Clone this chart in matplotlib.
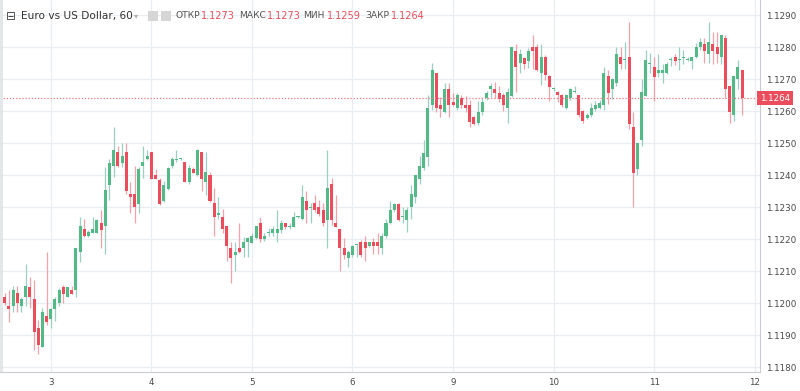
import matplotlib
matplotlib.use("Agg")
import matplotlib.pyplot as plt
from matplotlib.patches import Rectangle

# hourly EUR/USD candles (OHLC)
opens = [
    1.12020, 1.11991, 1.11991, 1.12030, 1.11991, 1.12020, 1.12049, 1.12012, 1.11923, 1.11862,
    1.11960, 1.11950, 1.11980, 1.12001, 1.12049, 1.12020, 1.12041, 1.12041, 1.12158, 1.12230,
    1.12209, 1.12220, 1.12220, 1.12249, 1.12241, 1.12369, 1.12428, 1.12471, 1.12438, 1.12471,
    1.12340, 1.12340, 1.12309, 1.12428, 1.12449, 1.12471, 1.12400, 1.12384, 1.12319, 1.12356,
    1.12428, 1.12448, 1.12449, 1.12441, 1.12379, 1.12420, 1.12400, 1.12471, 1.12379, 1.12400,
    1.12312, 1.12275, 1.12268, 1.12241, 1.12171, 1.12150, 1.12171, 1.12171, 1.12192, 1.12188,
    1.12202, 1.12251, 1.12200, 1.12220, 1.12220, 1.12220, 1.12228, 1.12249, 1.12238, 1.12238,
    1.12268, 1.12262, 1.12320, 1.12297, 1.12312, 1.12301, 1.12291, 1.12259, 1.12371, 1.12249,
    1.12230, 1.12171, 1.12140, 1.12150, 1.12180, 1.12192, 1.12192, 1.12179, 1.12192, 1.12192,
    1.12171, 1.12209, 1.12249, 1.12291, 1.12309, 1.12268, 1.12259, 1.12301, 1.12332, 1.12387,
    1.12421, 1.12457, 1.12619, 1.12718, 1.12619, 1.12598, 1.12668, 1.12629, 1.12608, 1.12640,
    1.12619, 1.12619, 1.12580, 1.12562, 1.12598, 1.12640, 1.12668, 1.12668, 1.12657, 1.12650,
    1.12608, 1.12647, 1.12788, 1.12749, 1.12765, 1.12757, 1.12799, 1.12799, 1.12720, 1.12768,
    1.12709, 1.12668, 1.12660, 1.12650, 1.12608, 1.12640, 1.12660, 1.12650, 1.12601, 1.12577,
    1.12587, 1.12605, 1.12608, 1.12619, 1.12709, 1.12668, 1.12688, 1.12768, 1.12758, 1.12768,
    1.12549, 1.12418, 1.12509, 1.12647, 1.12748, 1.12738, 1.12718, 1.12718, 1.12718, 1.12758,
    1.12768, 1.12758, 1.12767, 1.12758, 1.12757, 1.12768, 1.12799, 1.12809, 1.12778, 1.12809,
    1.12799, 1.12768, 1.12827, 1.12678, 1.12587, 1.12699, 1.12728,
]
highs = [
    1.12030, 1.12040, 1.12052, 1.12052, 1.12020, 1.12122, 1.12082, 1.12072, 1.11947, 1.11983,
    1.12160, 1.11983, 1.12020, 1.12046, 1.12056, 1.12049, 1.12052, 1.12171, 1.12270, 1.12262,
    1.12228, 1.12270, 1.12262, 1.12291, 1.12426, 1.12449, 1.12551, 1.12491, 1.12499, 1.12499,
    1.12379, 1.12428, 1.12426, 1.12491, 1.12478, 1.12471, 1.12418, 1.12390, 1.12381, 1.12426,
    1.12455, 1.12478, 1.12452, 1.12441, 1.12431, 1.12426, 1.12480, 1.12471, 1.12471, 1.12410,
    1.12358, 1.12330, 1.12293, 1.12241, 1.12192, 1.12192, 1.12251, 1.12207, 1.12207, 1.12220,
    1.12241, 1.12270, 1.12218, 1.12233, 1.12241, 1.12291, 1.12259, 1.12251, 1.12249, 1.12285,
    1.12272, 1.12369, 1.12351, 1.12313, 1.12337, 1.12322, 1.12312, 1.12478, 1.12390, 1.12337,
    1.12230, 1.12202, 1.12166, 1.12181, 1.12183, 1.12197, 1.12209, 1.12192, 1.12202, 1.12220,
    1.12218, 1.12262, 1.12320, 1.12313, 1.12312, 1.12301, 1.12301, 1.12369, 1.12400, 1.12459,
    1.12509, 1.12650, 1.12749, 1.12718, 1.12645, 1.12687, 1.12688, 1.12655, 1.12655, 1.12650,
    1.12647, 1.12634, 1.12584, 1.12632, 1.12643, 1.12663, 1.12688, 1.12692, 1.12678, 1.12657,
    1.12671, 1.12799, 1.12809, 1.12793, 1.12770, 1.12796, 1.12838, 1.12809, 1.12809, 1.12775,
    1.12712, 1.12676, 1.12663, 1.12653, 1.12653, 1.12671, 1.12678, 1.12650, 1.12603, 1.12593,
    1.12626, 1.12632, 1.12634, 1.12738, 1.12728, 1.12702, 1.12799, 1.12799, 1.12817, 1.12879,
    1.12598, 1.12499, 1.12699, 1.12791, 1.12780, 1.12768, 1.12778, 1.12747, 1.12754, 1.12770,
    1.12778, 1.12799, 1.12791, 1.12770, 1.12770, 1.12812, 1.12827, 1.12827, 1.12879, 1.12848,
    1.12848, 1.12838, 1.12838, 1.12678, 1.12709, 1.12759, 1.12728,
]
lows = [
    1.11994, 1.11942, 1.11973, 1.11973, 1.11973, 1.11991, 1.11983, 1.11853, 1.11841, 1.11862,
    1.11931, 1.11923, 1.11945, 1.11991, 1.12001, 1.12018, 1.12028, 1.12020, 1.12129, 1.12205,
    1.12205, 1.12218, 1.12220, 1.12171, 1.12153, 1.12322, 1.12393, 1.12426, 1.12426, 1.12341,
    1.12282, 1.12251, 1.12280, 1.12390, 1.12447, 1.12388, 1.12388, 1.12306, 1.12317, 1.12353,
    1.12421, 1.12442, 1.12447, 1.12377, 1.12372, 1.12405, 1.12397, 1.12350, 1.12337, 1.12317,
    1.12209, 1.12262, 1.12220, 1.12132, 1.12063, 1.12101, 1.12155, 1.12143, 1.12143, 1.12187,
    1.12199, 1.12192, 1.12195, 1.12209, 1.12209, 1.12192, 1.12220, 1.12230, 1.12230, 1.12237,
    1.12265, 1.12259, 1.12249, 1.12251, 1.12285, 1.12272, 1.12241, 1.12171, 1.12244, 1.12237,
    1.12101, 1.12137, 1.12113, 1.12145, 1.12145, 1.12143, 1.12132, 1.12176, 1.12153, 1.12153,
    1.12153, 1.12202, 1.12247, 1.12285, 1.12257, 1.12251, 1.12223, 1.12262, 1.12312, 1.12372,
    1.12416, 1.12428, 1.12603, 1.12598, 1.12580, 1.12595, 1.12582, 1.12616, 1.12603, 1.12608,
    1.12598, 1.12551, 1.12556, 1.12556, 1.12587, 1.12634, 1.12645, 1.12640, 1.12629, 1.12601,
    1.12562, 1.12643, 1.12660, 1.12720, 1.12730, 1.12733, 1.12730, 1.12726, 1.12681, 1.12697,
    1.12632, 1.12663, 1.12629, 1.12613, 1.12605, 1.12634, 1.12657, 1.12582, 1.12562, 1.12574,
    1.12582, 1.12601, 1.12605, 1.12603, 1.12622, 1.12637, 1.12678, 1.12730, 1.12730, 1.12543,
    1.12301, 1.12400, 1.12491, 1.12647, 1.12718, 1.12632, 1.12707, 1.12688, 1.12716, 1.12741,
    1.12744, 1.12728, 1.12747, 1.12757, 1.12730, 1.12765, 1.12791, 1.12749, 1.12749, 1.12747,
    1.12749, 1.12747, 1.12640, 1.12562, 1.12570, 1.12668, 1.12587,
]
closes = [
    1.11999, 1.11980, 1.12041, 1.11999, 1.12012, 1.12052, 1.12020, 1.11910, 1.11869, 1.11971,
    1.11942, 1.11980, 1.12012, 1.12041, 1.12028, 1.12049, 1.12028, 1.12171, 1.12241, 1.12209,
    1.12222, 1.12230, 1.12259, 1.12228, 1.12353, 1.12438, 1.12478, 1.12428, 1.12459, 1.12350,
    1.12330, 1.12299, 1.12420, 1.12441, 1.12459, 1.12388, 1.12388, 1.12309, 1.12369, 1.12421,
    1.12449, 1.12449, 1.12450, 1.12379, 1.12421, 1.12407, 1.12478, 1.12387, 1.12410, 1.12319,
    1.12268, 1.12280, 1.12230, 1.12178, 1.12140, 1.12160, 1.12158, 1.12192, 1.12202, 1.12209,
    1.12241, 1.12199, 1.12209, 1.12223, 1.12230, 1.12230, 1.12249, 1.12238, 1.12241, 1.12268,
    1.12269, 1.12330, 1.12291, 1.12299, 1.12291, 1.12278, 1.12249, 1.12358, 1.12259, 1.12238,
    1.12171, 1.12150, 1.12158, 1.12178, 1.12181, 1.12150, 1.12171, 1.12192, 1.12179, 1.12179,
    1.12209, 1.12251, 1.12291, 1.12309, 1.12259, 1.12270, 1.12291, 1.12340, 1.12400, 1.12428,
    1.12470, 1.12608, 1.12728, 1.12608, 1.12605, 1.12668, 1.12619, 1.12619, 1.12650, 1.12619,
    1.12608, 1.12567, 1.12559, 1.12598, 1.12629, 1.12657, 1.12678, 1.12657, 1.12637, 1.12619,
    1.12660, 1.12799, 1.12738, 1.12778, 1.12747, 1.12788, 1.12788, 1.12728, 1.12768, 1.12712,
    1.12676, 1.12669, 1.12650, 1.12619, 1.12650, 1.12668, 1.12662, 1.12587, 1.12570, 1.12587,
    1.12608, 1.12619, 1.12625, 1.12720, 1.12657, 1.12699, 1.12778, 1.12747, 1.12759, 1.12559,
    1.12407, 1.12499, 1.12660, 1.12759, 1.12749, 1.12707, 1.12728, 1.12728, 1.12747, 1.12759,
    1.12757, 1.12759, 1.12768, 1.12759, 1.12768, 1.12799, 1.12817, 1.12788, 1.12817, 1.12788,
    1.12778, 1.12838, 1.12668, 1.12598, 1.12709, 1.12738, 1.12640,
]

day_labels = ["3", "4", "5", "6", "9", "10", "11", "12"]
day_pos = [11, 35, 59, 83, 107, 131, 155, 179]  # bar index of midnight
price_ticks = [1.1180, 1.1190, 1.1200, 1.1210, 1.1220, 1.1230, 1.1240,
               1.1250, 1.1260, 1.1270, 1.1280, 1.1290]

header_vals = {"ОТКР": "1.1273", "МАКС": "1.1273", "МИН": "1.1259", "ЗАКР": "1.1264"}

UP, DOWN = "#53b987", "#eb4d5c"
UP_WICK, DOWN_WICK = "#9ccfc0", "#f3a2ab"
GRID = "#e9eef2"

fig = plt.figure(figsize=(8, 3.91), dpi=100)
ax = fig.add_axes([0, 19 / 391, 760 / 800, 372 / 391])

for i, (o, h, l, c) in enumerate(zip(opens, highs, lows, closes)):
    up = c >= o
    ax.vlines(i, l, h, color=UP_WICK if up else DOWN_WICK, lw=0.9, zorder=2)
    bot = min(o, c)
    hgt = max(abs(c - o), 0.00003)
    ax.add_patch(Rectangle((i - 0.36, bot), 0.72, hgt, facecolor=UP if up else DOWN,
                           edgecolor="none", zorder=3))

last = closes[-1]
ax.axhline(last, color="#f07c87", lw=0.9, ls=(0, (1, 1.5)), zorder=4)

ax.set_xlim(-1.12, 180.26)
ax.set_ylim(1.117844, 1.129469)

ax.set_xticks(day_pos)
ax.set_xticklabels(day_labels)
ax.set_yticks(price_ticks)
ax.set_yticklabels([f"{p:.4f}" for p in price_ticks])
ax.yaxis.tick_right()
ax.tick_params(axis="both", length=0, labelsize=6.3, colors="#4a4a4a")
ax.tick_params(axis="y", pad=4)
ax.tick_params(axis="x", pad=4)
ax.grid(True, color=GRID, lw=0.9, zorder=0)
ax.set_axisbelow(True)
for s in ["top", "left"]:
    ax.spines[s].set_visible(False)
for s in ["right", "bottom"]:
    ax.spines[s].set_color("#c9cdd1")
    ax.spines[s].set_linewidth(0.8)

# price tag on the right axis
ax.text(1.0, last, f"{last:.4f}", transform=ax.get_yaxis_transform(), ha="left", va="center",
        fontsize=6.3, color="white",
        bbox=dict(boxstyle="square,pad=0.3", fc=DOWN, ec="none"), clip_on=False)

# left toolbar edge
fig.patches.append(Rectangle((0, 19 / 391), 3 / 800, 372 / 391, transform=fig.transFigure,
                             facecolor="#e4e7ea", edgecolor="none"))

# header
def fx(px):
    return px / 800

hy = 1 - 16 / 391
fig.text(fx(6), hy, "⊟", fontsize=8.5, color="#444444", va="center")
fig.text(fx(21), hy, "Euro vs US Dollar, 60", fontsize=7.6, color="#333333", va="center")
fig.text(fx(134), hy, "▾", fontsize=6, color="#b0b0b0", va="center")
for px in [148, 161]:
    fig.patches.append(Rectangle((fx(px), 1 - 21 / 391), 10 / 800, 10 / 391,
                                 transform=fig.transFigure, facecolor="#d6d6d6", edgecolor="none"))
xs = [(175, 201), (239, 267), (303, 327), (365, 391)]
for (lx, vx), (lab, val) in zip(xs, header_vals.items()):
    fig.text(fx(lx), hy, lab, fontsize=6.6, color="#555555", va="center")
    fig.text(fx(vx), hy, val, fontsize=7.0, color=DOWN, va="center")

fig.savefig("out.png", dpi=100)
